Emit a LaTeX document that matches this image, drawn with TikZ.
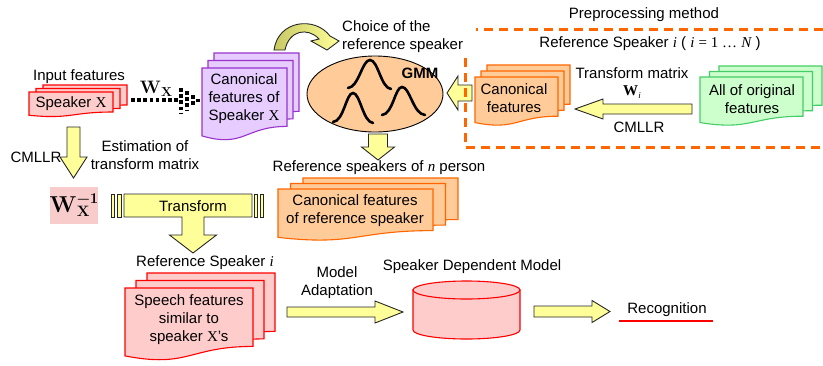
\documentclass[tikz,border=0pt]{standalone}
\usepackage[no-math]{fontspec}
\setmainfont{Liberation Sans}
\newfontfamily\serif{Liberation Serif}
\newfontfamily\cmfont{Latin Modern Roman}
\usetikzlibrary{shapes.geometric}

\definecolor{pinkfill}{HTML}{FFCCCC}
\definecolor{redline}{HTML}{FF0000}
\definecolor{violetfill}{HTML}{E6CCFF}
\definecolor{violetline}{HTML}{9933CC}
\definecolor{orangefill}{HTML}{FFCC99}
\definecolor{orangeline}{HTML}{FF6600}
\definecolor{greenfill}{HTML}{CCFFCC}
\definecolor{greenline}{HTML}{44CC66}
\definecolor{arrowfill}{HTML}{FFFF99}
\definecolor{olivefill}{HTML}{C8C864}
\definecolor{wboxfill}{HTML}{F9CCCC}

% one page of a document symbol with a wavy lower edge
\newcommand\docpage[5]{%
  \filldraw[#1] ({#2},{#3}) -- ({#4},{#3}) -- ({#4},{#3+0.8*(#5-#3)})
    .. controls ({(#2+#4)/2},{#3+0.8*(#5-#3)}) and ({(#2+#4)/2},{#3+1.1*(#5-#3)})
    .. ({#2},{#3+0.93*(#5-#3)}) -- cycle;}
% three stacked pages, front page last
\newcommand\docstack[7]{%
  \docpage{#1}{(#2+2*(#6))}{(#3+2*(#7))}{(#4+2*(#6))}{(#5+2*(#7))}%
  \docpage{#1}{(#2+(#6))}{(#3+(#7))}{(#4+(#6))}{(#5+(#7))}%
  \docpage{#1}{#2}{#3}{#4}{#5}}
% horizontal block arrow: style, tail x, head base x, tip x, y, shaft half, head half
\newcommand\harrow[7]{%
  \filldraw[#1] ({#2},{#5-#6}) -- ({#3},{#5-#6}) -- ({#3},{#5-#7}) -- ({#4},{#5})
    -- ({#3},{#5+#7}) -- ({#3},{#5+#6}) -- ({#2},{#5+#6}) -- cycle;}
% vertical block arrow: style, x, tail y, head base y, tip y, shaft half, head half
\newcommand\varrow[7]{%
  \filldraw[#1] ({#2-#6},{#3}) -- ({#2-#6},{#4}) -- ({#2-#7},{#4}) -- ({#2},{#5})
    -- ({#2+#7},{#4}) -- ({#2+#6},{#4}) -- ({#2+#6},{#3}) -- cycle;}

% bold matrix symbols set as text
\newcommand\winvtext{{\cmfont\bfseries\fontsize{23}{25}\selectfont W\kern0.5pt%
  \rlap{\raisebox{-4.5pt}{\fontsize{15}{15}\selectfont X}}%
  \raisebox{9pt}{\fontsize{15}{15}\selectfont −1}}}
\newcommand\wxtext{{\cmfont\bfseries\fontsize{18}{20}\selectfont W\kern0.5pt%
  \raisebox{-3.5pt}{\fontsize{13}{13}\selectfont X}}}
\newcommand\witext{{\serif\bfseries\fontsize{15}{17}\selectfont W\kern0.3pt%
  \raisebox{-3pt}{\mdseries\itshape\fontsize{9}{9}\selectfont i}}}

\tikzset{
  lbl/.style={font=\fontsize{15}{18}\selectfont, inner sep=0pt, align=center},
  pinkdoc/.style={fill=pinkfill, draw=redline, line width=1.1},
  violetdoc/.style={fill=violetfill, draw=violetline, line width=1.1},
  orangedoc/.style={fill=orangefill, draw=orangeline, line width=1.1},
  greendoc/.style={fill=greenfill, draw=greenline, line width=1.1},
  blockarrow/.style={fill=arrowfill, draw=black!85, line width=0.9},
  prepbox/.style={draw=orangeline, line width=3, dash pattern=on 9pt off 6pt},
  dotline/.style={line width=3.6, dash pattern=on 3.6pt off 2.6pt},
  bell/.style={line width=2.6, line cap=round},
}

\begin{document}
\begin{tikzpicture}[x=1pt, y=-1pt]
\useasboundingbox (0,0) rectangle (823,365);

% ---------- document stacks ----------
\docstack{pinkdoc}{29}{92}{113}{117}{7}{-3.5}
\docstack{violetdoc}{202}{68}{287}{141}{6}{-7.5}
\docstack{orangedoc}{475}{77}{558}{126}{6}{-6}
\docstack{greendoc}{700}{77}{803}{126}{9.5}{-5.5}
\docstack{orangedoc}{278}{189}{433}{241}{12.5}{-5.5}
\docstack{pinkdoc}{125}{288}{253}{361}{11}{-7.5}

% ---------- GMM ----------
\node[draw=black, line width=0.9, fill=orangefill, ellipse, minimum width=136pt, minimum height=76pt, inner sep=0pt] (gmm) at (375,94) {};
\draw[bell] (348,88) .. controls (359,87) and (362,60) .. (370,60)
                     .. controls (378,60) and (381,88) .. (391,89);
\draw[bell] (333,122) .. controls (344,121) and (346,93) .. (353,93)
                      .. controls (360,93) and (363,122) .. (373,123);
\draw[bell] (382,115) .. controls (393,114) and (395,87) .. (402,87)
                      .. controls (410,87) and (413,114) .. (425,115);
\node[font=\bfseries\fontsize{15}{18}\selectfont, inner sep=0pt] (gmmlbl) at (420,73) {GMM};

% ---------- block arrows ----------
\varrow{blockarrow}{73.5}{127}{157}{178}{6.5}{13.5}
\varrow{blockarrow}{378}{134}{147}{160}{9.5}{16.5}
\harrow{blockarrow}{472}{458}{447}{93}{8}{17}
\harrow{blockarrow}{692}{603}{575}{109}{5}{10}
\harrow{blockarrow}{287}{375}{403}{312}{5}{11}
\harrow{blockarrow}{534}{592}{610}{311.5}{5.5}{11}

% transform bar with its downward arrow
\filldraw[blockarrow] (124,194) -- (252,194) -- (252,217) -- (204,217) -- (204,235)
  -- (216.5,235) -- (193,253) -- (169.5,235) -- (182,235) -- (182,217) -- (124,217) -- cycle;
\filldraw[blockarrow] (111.5,194) rectangle (114.5,217);
\filldraw[blockarrow] (117,194) rectangle (121,217);
\filldraw[blockarrow] (254,194) rectangle (257.5,217);
\filldraw[blockarrow] (260,194) rectangle (263.5,217);

% curved arrow over the canonical features
\draw[draw=black!85, line width=0.9, left color=olivefill, right color=arrowfill]
  (274,50) .. controls (278,20) and (315,16) .. (330,36) -- (339,41) -- (327,50)
  -- (311,41) -- (319,39) .. controls (308,27) and (289,30) .. (285,50) -- cycle;

% dotted arrow carrying W_X
\draw[dotline] (131,100) -- (178,100);
\draw[dotline] (181,88) -- (181,113);
\draw[dotline] (187,91) -- (187,110);
\draw[dotline] (193,95) -- (193,106);
\draw[dotline] (198,99) -- (198,102);

% ---------- preprocessing frame ----------
\draw[prepbox] (823,29) -- (476,29);
\draw[prepbox] (465,58) -- (465,147) -- (823,147);

% recognition underline
\draw[draw=redline, line width=2.2] (619,321) -- (713,321);

% inverse transform matrix
\node[fill=wboxfill, minimum width=48pt, minimum height=37pt, inner sep=0pt] (winv) at (74,205) {\winvtext};

% ---------- labels ----------
\node[lbl] (inputlbl) at (79,77) {Input features};
\node[lbl] (spkx) at (71,104) {Speaker {\serif X}};
\node[inner sep=0pt] (wx) at (156,89) {\wxtext};
\node[lbl] (canx) at (244,99) {Canonical\\features of\\Speaker {\serif X}};
\node[lbl, anchor=west, align=left] (choice) at (342,37) {Choice of the\\reference speaker};
\node[lbl] (prep) at (644,15) {Preprocessing method};
\node[lbl] (refi) at (650,44) {Reference Speaker {\serif\itshape i} ( {\serif\itshape i} {\serif = 1 …} {\serif\itshape N} )};
\node[lbl] (canref) at (514,98) {Canonical\\features};
\node[lbl] (tm) at (632,73) {Transform matrix};
\node[inner sep=0pt] (wi) at (632,92) {\witext};
\node[lbl] (cmllrr) at (639,127) {CMLLR};
\node[lbl] (orig) at (752,99) {All of original\\features};
\node[lbl] (cmllrl) at (36,157) {CMLLR};
\node[lbl] (estim) at (145,155) {Estimation of\\transform matrix};
\node[lbl] (transf) at (193,206) {Transform};
\node[lbl] (refn) at (379,168) {Reference speakers of {\serif\itshape n} person};
\node[lbl] (canrefspk) at (355,211) {Canonical features\\of reference speaker};
\node[lbl] (refspk) at (205,263) {Reference Speaker {\serif\itshape i}};
\node[lbl] (speech) at (189,320) {Speech features\\similar to\\speaker {\serif X}’s};
\node[lbl] (adapt) at (337,283) {Model\\Adaptation};
\node[lbl] (sdm) at (472,267) {Speaker Dependent Model};
\node[lbl] (recog) at (667,310) {Recognition};

% ---------- speaker dependent model (cylinder) ----------
\filldraw[fill=pinkfill, draw=redline, line width=1.1]
  (413,290) -- (413,330) arc[start angle=180, end angle=360, x radius=53.5pt, y radius=9pt]
  -- (520,290) -- cycle;
\filldraw[fill=pinkfill, draw=redline, line width=1.1] (466.5,290) ellipse [x radius=53.5pt, y radius=9pt];
\end{tikzpicture}
\end{document}
